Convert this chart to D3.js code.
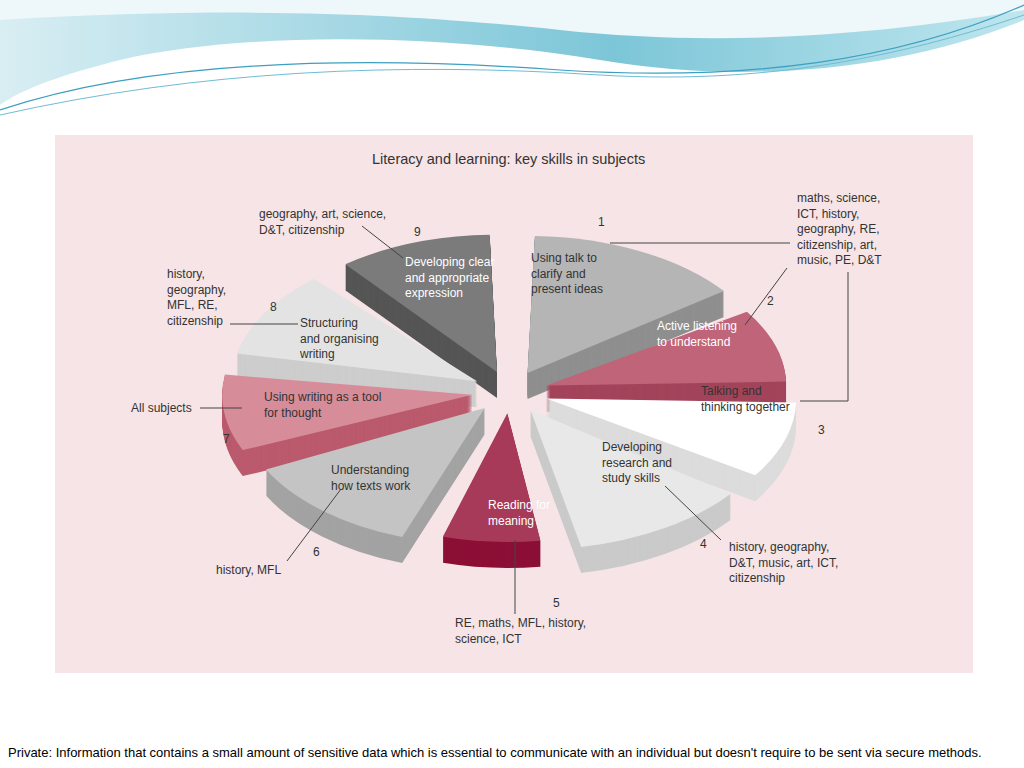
<!DOCTYPE html><html><head><meta charset="utf-8"><script src="https://cdn.jsdelivr.net/npm/d3@7"></script>
<style>body{margin:0;background:#fff}svg{display:block}text{font-family:"Liberation Sans",Arial,sans-serif}</style></head><body>
<svg id="c" width="1024" height="768"></svg>
<script>
const numbers=[1,2,3,4,5,6,7,8,9];
const skills=[["Using talk to","clarify and","present ideas"],["Active listening","to understand"],["Talking and","thinking together"],["Developing","research and","study skills"],["Reading for","meaning"],["Understanding","how texts work"],["Using writing as a tool","for thought"],["Structuring","and organising","writing"],["Developing clear","and appropriate","expression"]];
const subjects=[["maths, science,","ICT, history,","geography, RE,","citizenship, art,","music, PE, D&T"],[],[],["history, geography,","D&T, music, art, ICT,","citizenship"],["RE, maths, MFL, history,","science, ICT"],["history, MFL"],["All subjects"],["history,","geography,","MFL, RE,","citizenship"],["geography, art, science,","D&T, citizenship"]];
const values=[55,35,35,45,28,47,35,40,40];
const topCol=["#b5b5b5","#c06479","#ffffff","#e8e8e8","#a83a59","#c4c4c4","#d68d99","#e3e3e3","#7b7b7b"];
const sideCol=["#8f8f8f","#a3445b","#dcdcdc","#cacaca","#8c0f36","#a3a3a3","#bb5a6d","#cdcdcd","#555555"];
const radii=[245,240,250,250,230,245,250,245,245];

const svg=d3.select("#c");
const defs=svg.append("defs");
const g1=defs.append("linearGradient").attr("id","w").attr("x1",0).attr("x2",1);
g1.append("stop").attr("offset",0).attr("stop-color","#d8eef3");g1.append("stop").attr("offset",0.6).attr("stop-color","#7cc6d8");g1.append("stop").attr("offset",1).attr("stop-color","#bfe6ee");
svg.append("path").attr("d","M0,0 L1024,0 L1024,20 C900,70 750,85 600,60 C450,35 250,30 120,60 C60,75 20,90 0,105 Z").attr("fill","url(#w)");
svg.append("path").attr("d","M0,0 L1024,0 L1024,10 C850,40 700,45 560,30 C420,15 250,5 0,20 Z").attr("fill","#eef7fa");
svg.append("path").attr("d","M0,110 C150,60 350,55 560,70 C750,82 900,60 1024,5").attr("fill","none").attr("stroke","#3d9fc0").attr("stroke-width",1.2);
svg.append("path").attr("d","M0,115 C200,70 400,62 600,75 C780,86 920,50 1024,15").attr("fill","none").attr("stroke","#6fbcd4").attr("stroke-width",1);

svg.append("rect").attr("x",55).attr("y",135).attr("width",918).attr("height",538).attr("fill","#f6e4e6");
svg.append("text").attr("x",372).attr("y",164).attr("font-size",14.5).attr("fill","#333").text("Literacy and learning: key skills in subjects");

const cx=510,cy=392,ys=0.56,depth=26,explode=38;
const pie=d3.pie().sort(null).value(d=>d)(values);
const arc=d3.arc().innerRadius(0);
const sl=pie.map((p,i)=>({p,i,mid:(p.startAngle+p.endAngle)/2}));
sl.forEach(s=>{s.ox=Math.sin(s.mid)*explode;s.oy=-Math.cos(s.mid)*explode*ys;});
const order=sl.slice().sort((a,b)=>Math.cos(b.mid)-Math.cos(a.mid));
const pg=svg.append("g");
order.forEach(s=>{
  const d=arc({startAngle:s.p.startAngle+0.03,endAngle:s.p.endAngle-0.03,outerRadius:radii[s.i]});
  for(let k=depth;k>0;k-=1){
    pg.append("path").attr("d",d).attr("transform",`translate(${cx+s.ox},${cy+s.oy+k}) scale(1,${ys})`).attr("fill",sideCol[s.i]);
  }
  pg.append("path").attr("d",d).attr("transform",`translate(${cx+s.ox},${cy+s.oy}) scale(1,${ys})`).attr("fill",topCol[s.i]);
});

const skillPos=[[531,262],[657,330],[701,395],[602,451],[488,509],[331,474],[264,401],[300,327],[405,266]];
const skillWhite=[false,true,false,false,true,false,false,false,true];
const subjPos=[[797,202],null,null,[729,551],[455,627],[216,574],[131,412],[167,278],[259,218]];
const numPos=[[598,226],[767,305],[818,434],[700,548],[553,607],[313,556],[223,443],[270,311],[414,236]];
const lh=15.5;
skills.forEach((ls,i)=>{const t=svg.append("text").attr("font-size",12).attr("fill",skillWhite[i]?"#fff":"#333");
  ls.forEach((l,j)=>t.append("tspan").attr("x",skillPos[i][0]).attr("y",skillPos[i][1]+j*lh).text(l));});
subjects.forEach((ls,i)=>{if(!subjPos[i])return;const t=svg.append("text").attr("font-size",12).attr("fill","#333");
  ls.forEach((l,j)=>t.append("tspan").attr("x",subjPos[i][0]).attr("y",subjPos[i][1]+j*lh).text(l));});
numbers.forEach((n,i)=>svg.append("text").attr("x",numPos[i][0]).attr("y",numPos[i][1]).attr("font-size",12).attr("fill","#333").text(n));
const leaders=[[[610,243],[790,243]],[[745,325],[787,268]],[[800,401],[848,401],[848,272]],[[665,486],[721,540]],[[515,540],[515,614]],[[341,489],[287,561]],[[200,408],[242,408]],[[230,324],[298,324]],[[362,226],[403,258]]];
leaders.forEach(p=>svg.append("path").attr("d",d3.line()(p)).attr("fill","none").attr("stroke","#444").attr("stroke-width",1));

svg.append("text").attr("x",8).attr("y",757).attr("font-size",13).attr("fill","#000").attr("font-family","Lato").text("Private: Information that contains a small amount of sensitive data which is essential to communicate with an individual but doesn't require to be sent via secure methods.");
</script></body></html>
